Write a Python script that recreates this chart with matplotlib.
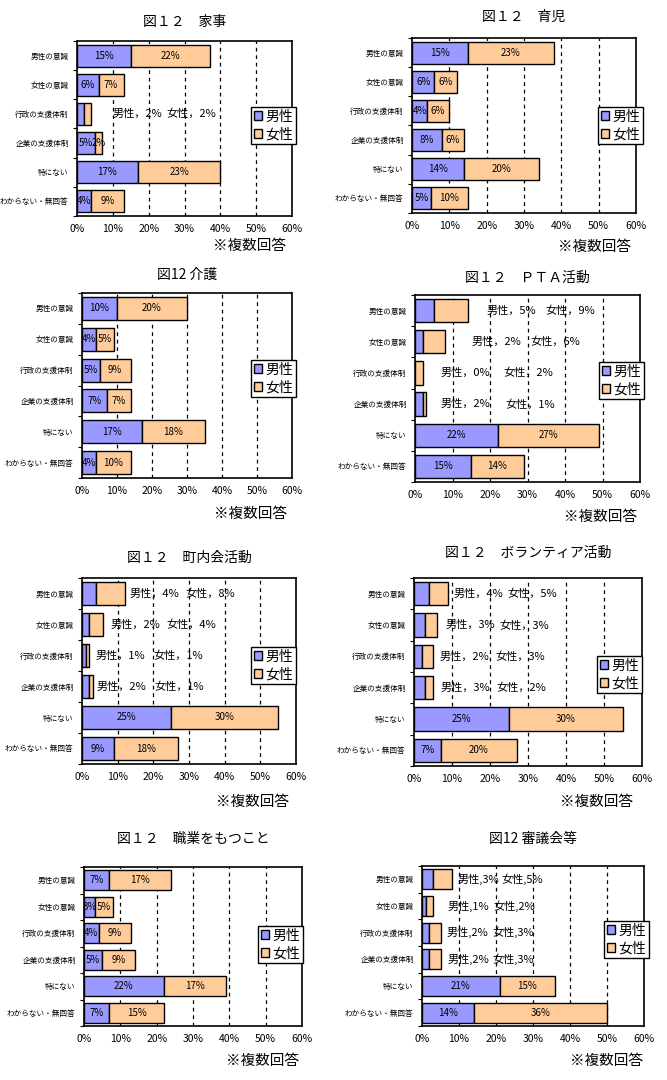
import matplotlib.pyplot as plt
from matplotlib.patches import Patch

plt.rcParams['font.family'] = ['Noto Sans CJK JP', 'DejaVu Sans']

W, H = 667, 1080

categories = ['男性の意識', '女性の意識', '行政の支援体制', '企業の支援体制',
              '特にない', 'わからない・無回答']
xticks = [0, 10, 20, 30, 40, 50, 60]
xticklabels = ['0%', '10%', '20%', '30%', '40%', '50%', '60%']
series_names = ['男性', '女性']

titles = ['図１２　家事', '図１２　育児', '図12 介護', '図１２　ＰＴＡ活動',
          '図１２　町内会活動', '図１２　ボランティア活動', '図１２　職業をもつこと',
          '図12 審議会等']

kaji_male = [15, 6, 2, 5, 17, 4]
kaji_female = [22, 7, 2, 2, 23, 9]
ikuji_male = [15, 6, 4, 8, 14, 5]
ikuji_female = [23, 6, 6, 6, 20, 10]
kaigo_male = [10, 4, 5, 7, 17, 4]
kaigo_female = [20, 5, 9, 7, 18, 10]
pta_male = [5, 2, 0, 2, 22, 15]
pta_female = [9, 6, 2, 1, 27, 14]
chonai_male = [4, 2, 1, 2, 25, 9]
chonai_female = [8, 4, 1, 1, 30, 18]
volunteer_male = [4, 3, 2, 3, 25, 7]
volunteer_female = [5, 3, 3, 2, 30, 20]
shokugyo_male = [7, 3, 4, 5, 22, 7]
shokugyo_female = [17, 5, 9, 9, 17, 15]
shingikai_male = [3, 1, 2, 2, 21, 14]
shingikai_female = [5, 2, 3, 3, 15, 36]

male_all = [kaji_male, ikuji_male, kaigo_male, pta_male,
            chonai_male, volunteer_male, shokugyo_male, shingikai_male]
female_all = [kaji_female, ikuji_female, kaigo_female, pta_female,
              chonai_female, volunteer_female, shokugyo_female, shingikai_female]

# layout in pixels: axes (left, top, right, bottom), title y, legend top-left, note centre
layout = [
    dict(ax=(77, 41, 292, 216), ty=22, leg=(251, 107), note=(250, 246)),
    dict(ax=(412, 38, 636, 213), ty=17, leg=(598, 107), note=(595, 247)),
    dict(ax=(82, 293, 292, 478), ty=275, leg=(251, 360), note=(251, 514)),
    dict(ax=(415, 295, 640, 482), ty=278, leg=(599, 362), note=(601, 517)),
    dict(ax=(82, 578, 296, 764), ty=558, leg=(251, 647), note=(253, 802)),
    dict(ax=(414, 578, 642, 766), ty=553, leg=(597, 656), note=(597, 802)),
    dict(ax=(84, 867, 302, 1026), ty=839, leg=(258, 926), note=(262, 1061)),
    dict(ax=(422, 866, 644, 1026), ty=839, leg=(604, 921), note=(607, 1061)),
]

# rows labelled outside the bar: row -> (x of male text, x of female text) in %
outside = [
    {2: (9.8, 25.0)},
    {},
    {},
    {0: (19.0, 34.7), 1: (15.0, 30.7), 2: (6.7, 23.5), 3: (6.7, 24.0)},
    {0: (13.2, 29.0), 1: (8.1, 23.7), 2: (3.9, 20.0), 3: (4.2, 20.3)},
    {0: (10.5, 24.7), 1: (8.2, 22.4), 2: (6.6, 21.3), 3: (7.1, 21.8)},
    {},
    {0: (9.7, 21.4), 1: (6.8, 19.2), 2: (6.5, 19.0), 3: (6.8, 19.0)},
]
comma = ['，', '，', '，', '，', '，', '，', '，', ',']

male_color = '#9999FF'
female_color = '#FFCC99'

fig = plt.figure(figsize=(W / 100, H / 100), dpi=100)

for i in range(8):
    lay = layout[i]
    l, t, r, b = lay['ax']
    ax = fig.add_axes([l / W, 1 - b / H, (r - l) / W, (b - t) / H])
    male = male_all[i]
    female = female_all[i]
    y = list(range(len(categories)))

    ax.barh(y, male, height=0.75, color=male_color, edgecolor='black', lw=1, zorder=3)
    ax.barh(y, female, left=male, height=0.75, color=female_color,
            edgecolor='black', lw=1, zorder=3)

    for k in y:
        if k in outside[i]:
            xm, xf = outside[i][k]
            ax.text(xm, k, f'男性{comma[i]}{male[k]}%', fontsize=8,
                    va='center', ha='left', zorder=4)
            ax.text(xf, k, f'女性{comma[i]}{female[k]}%', fontsize=8,
                    va='center', ha='left', zorder=4)
        else:
            ax.text(male[k] / 2, k, f'{male[k]}%', fontsize=7,
                    va='center', ha='center', zorder=4)
            ax.text(male[k] + female[k] / 2, k, f'{female[k]}%', fontsize=7,
                    va='center', ha='center', zorder=4)

    for gx in xticks[1:-1]:
        ax.axvline(gx, color='black', ls=(0, (3, 3)), lw=0.9, zorder=1)

    ax.set_xlim(0, 60)
    ax.set_ylim(len(categories) - 0.5, -0.5)
    ax.set_xticks(xticks)
    ax.set_xticklabels(xticklabels, fontsize=7.5)
    ax.tick_params(axis='x', length=0, pad=6)
    ax.set_yticks(y)
    ax.set_yticklabels(categories, fontsize=5.5)
    ax.tick_params(axis='y', length=0, pad=6)
    ax.set_yticks([k + 0.5 for k in range(-1, len(categories))], minor=True)
    ax.tick_params(axis='y', which='minor', length=3, width=0.8, direction='out')
    for s in ax.spines.values():
        s.set_linewidth(1.2)
        s.set_color('black')

    fig.text((l + r) / 2 / W, 1 - lay['ty'] / H, titles[i], fontsize=10,
             ha='center', va='center')
    fig.text(lay['note'][0] / W, 1 - lay['note'][1] / H, '※複数回答', fontsize=10.5,
             ha='center', va='center')

    handles = [Patch(facecolor=male_color, edgecolor='black'),
               Patch(facecolor=female_color, edgecolor='black')]
    lx, ly = lay['leg']
    leg = ax.legend(handles, series_names, loc='upper left',
                    bbox_to_anchor=(lx / W, 1 - ly / H), bbox_transform=fig.transFigure,
                    borderaxespad=0, fontsize=10, fancybox=False, framealpha=1,
                    handlelength=0.6, handleheight=0.6, handletextpad=0.25,
                    borderpad=0.2, labelspacing=0.25)
    leg.get_frame().set_edgecolor('black')
    leg.get_frame().set_linewidth(1)

fig.savefig('out.png', dpi=100)
